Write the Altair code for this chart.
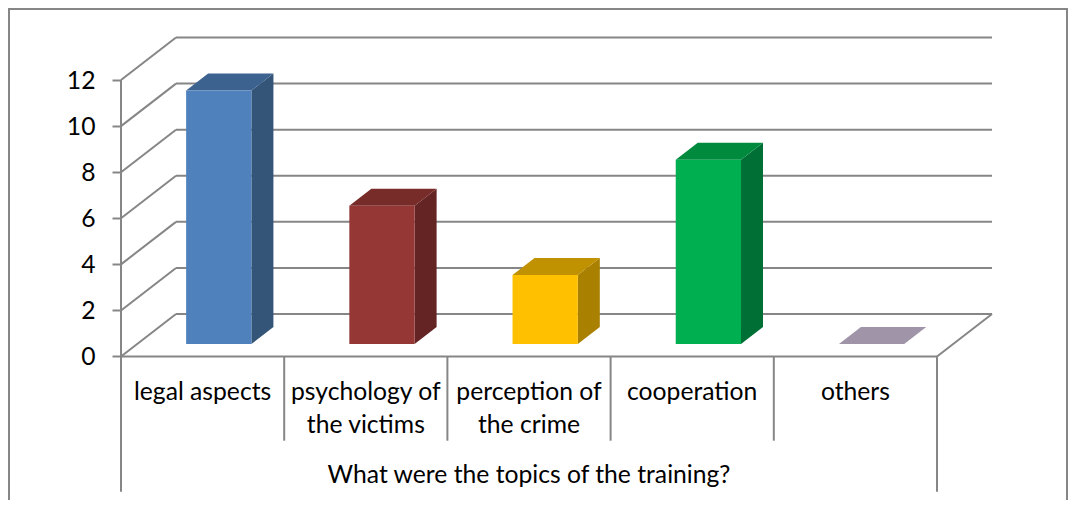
import altair as alt
import pandas as pd

categories = ["legal aspects", "psychology of\nthe victims", "perception of\nthe crime", "cooperation", "others"]
values = [11, 6, 3, 8, 0]
front_colors = ["#4F81BD", "#953735", "#FFC000", "#00B050", "#A094A8"]
side_colors = ["#345578", "#632423", "#A98000", "#006F36", "#A094A8"]
top_colors = ["#3C6290", "#772C2A", "#C09100", "#008A3E", "#A094A8"]
y_ticks = [0, 2, 4, 6, 8, 10, 12]
axis_title = "What were the topics of the training?"

# scale geometry (page pixels per data unit)
W, H = 1060, 492
X0, UX = 121.0, 163.2
Y0, UY = 356.5, 23.04
DX, DY = 55 / UX, 42.5 / UY
FLOOR, DEPTH, BAR = 0.294, 0.40, 0.40
GRID = "#868686"
FONT = "Lato"
FS = 24.7

xs = alt.Scale(domain=[(8 - X0) / UX, (8 + W - X0) / UX], range=[0, W], nice=False, zero=False)
ys = alt.Scale(domain=[(Y0 - 8 - H) / UY, (Y0 - 8) / UY], range=[H, 0], nice=False, zero=False)
y_axis = alt.Axis(
    values=y_ticks, orient="left", offset=-(X0 - 8), domain=False, grid=False, title=None,
    tickColor=GRID, tickWidth=2, tickSize=9, labelPadding=17, labelFont=FONT, labelFontSize=FS,
    labelColor="#000000", labelOffset=1, format="d")
X = lambda f: alt.X(f, type="quantitative", scale=xs, axis=None)
Y = lambda f: alt.Y(f, type="quantitative", scale=ys, axis=y_axis, stack=None)

front, side, top = [], [], []
for i, (c, v) in enumerate(zip(categories, values)):
    left = i + 0.5 - BAR / 2 + FLOOR * DX
    right = left + BAR
    base = FLOOR * DY
    ddx, ddy = DEPTH * DX, DEPTH * DY
    front.append(dict(c=i, x=left, x2=right, y=base, y2=base + v))
    side.append(dict(c=i, x=right, lo=base, hi=base + v))
    side.append(dict(c=i, x=right + ddx, lo=base + ddy, hi=base + v + ddy))
    top.append(dict(c=i, y=base + v, x=left, x2=right))
    top.append(dict(c=i, y=base + v + ddy, x=left + ddx, x2=right + ddx))
front, side, top = pd.DataFrame(front), pd.DataFrame(side), pd.DataFrame(top)

def color(rng):
    return alt.Color("c:N", scale=alt.Scale(domain=list(range(5)), range=rng), legend=None)

rule = dict(color=GRID, strokeWidth=2)

back = alt.Chart(pd.DataFrame({"v": y_ticks})).transform_calculate(
    yb=f"datum.v + {DY}", x1=f"{DX}", x2=f"{5 + DX}"
).mark_rule(**rule).encode(x=X("x1"), x2="x2:Q", y=Y("yb"))

wall_rows = []
for t in y_ticks:
    wall_rows += [dict(t=t, x=0, y=t), dict(t=t, x=DX, y=t + DY)]
wall_rows += [dict(t=-1, x=5, y=0), dict(t=-1, x=5 + DX, y=DY)]
walls = alt.Chart(pd.DataFrame(wall_rows)).mark_line(**rule).encode(x=X("x"), y=Y("y"), detail="t:N")

base_df = pd.DataFrame({"x": [0], "x2": [5], "y": [0], "yt": [12]})
floor_edge = alt.Chart(base_df).mark_rule(**rule).encode(x=X("x"), x2="x2:Q", y=Y("y"))
axis_line = alt.Chart(base_df).mark_rule(**rule).encode(x=X("x"), y=Y("y"), y2="yt:Q")

seps = pd.DataFrame({"i": [1, 2, 3, 4]})
ends = pd.DataFrame({"i": [0, 5]})
sep_short = alt.Chart(seps).mark_rule(**rule).encode(x=X("i"), y=alt.value(Y0 - 8), y2=alt.value(440.7 - 8))
sep_long = alt.Chart(ends).mark_rule(**rule).encode(x=X("i"), y=alt.value(Y0 - 8), y2=alt.value(491.7 - 8))

fronts = alt.Chart(front).mark_rect().encode(x=X("x"), x2="x2:Q", y=Y("y"), y2="y2:Q", color=color(front_colors))
sides = alt.Chart(side).mark_area(orient="vertical").encode(x=X("x"), y=Y("lo"), y2="hi:Q", detail="c:N", color=color(side_colors))
tops = alt.Chart(top).mark_area(orient="horizontal").encode(y=Y("y"), x=X("x"), x2="x2:Q", detail="c:N", color=color(top_colors))

labels = alt.Chart(pd.DataFrame({"u": [i + 0.5 for i in range(5)], "t": categories})).transform_calculate(
    t2="split(datum.t, '\\n')"
).mark_text(font=FONT, fontSize=FS, color="#000000", lineHeight=33, baseline="top", align="center").encode(
    x=X("u"), y=alt.value(379.5 - 8), text="t2:N")
title = alt.Chart(pd.DataFrame({"u": [2.5], "t": [axis_title]})).mark_text(
    font=FONT, fontSize=FS, color="#000000", baseline="middle", align="center"
).encode(x=X("u"), y=alt.value(476 - 8), text="t:N")

frame_top = alt.Chart(base_df).mark_rule(color=GRID, strokeWidth=2).encode(x=alt.value(0), x2=alt.value(W), y=alt.value(1))
frame_left = alt.Chart(base_df).mark_rule(color=GRID, strokeWidth=2).encode(x=alt.value(1), y=alt.value(0), y2=alt.value(H))
frame_right = alt.Chart(base_df).mark_rule(color=GRID, strokeWidth=2).encode(x=alt.value(W - 1), y=alt.value(0), y2=alt.value(H))

chart = alt.layer(
    back, walls, floor_edge, axis_line, sep_short, sep_long,
    sides, tops, fronts, labels, title, frame_top, frame_left, frame_right
).resolve_scale(color="independent").properties(
    width=W, height=H, padding=0, background="white",
    autosize=alt.AutoSizeParams(type="none")
).configure_view(stroke=None)

chart.save("out.html", embed_options={"renderer": "svg", "actions": False})
